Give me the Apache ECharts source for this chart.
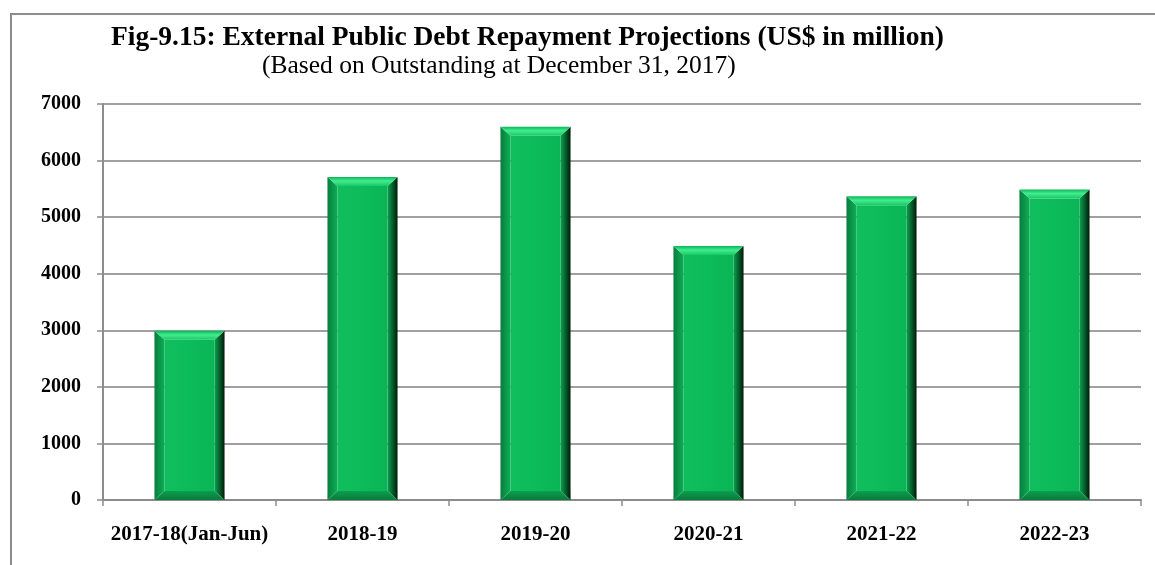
<!DOCTYPE html>
<html>
<head>
<meta charset="utf-8">
<script src="https://cdn.jsdelivr.net/npm/echarts@6/dist/echarts.min.js"></script>
<style>
  html, body { margin: 0; padding: 0; background: #fff; }
  #chart { width: 1155px; height: 565px; }
</style>
</head>
<body>
<div id="chart"></div>
<script>
// Repayment periods and projected repayments (US$ million)
const categories = ['2017-18(Jan-Jun)', '2018-19', '2019-20', '2020-21', '2021-22', '2022-23'];
const repayments = [2990, 5710, 6600, 4490, 5370, 5490];
const yTicks = { min: 0, max: 7000, interval: 1000 };

const serif = '"Liberation Serif", "Times New Roman", serif';

function lin(x0, y0, x1, y1, stops) {
  return new echarts.graphic.LinearGradient(x0, y0, x1, y1,
    stops.map(([o, c]) => ({ offset: o, color: c })));
}

// Bevelled bar: a flat face framed by four sloped edges
function renderBevelBar(params, api) {
  const val = api.value(1);
  const top = api.coord([api.value(0), val]);
  const base = api.coord([api.value(0), 0]);
  const bw = api.size([1, 0])[0] * 0.405;
  const x0 = top[0] - bw / 2, x1 = top[0] + bw / 2;
  const y0 = top[1], y1 = base[1];
  const b = 10, bv = 9;
  const poly = (pts, fill) => ({ type: 'polygon', shape: { points: pts }, style: { fill: fill } });
  return {
    type: 'group',
    children: [
      { type: 'rect', shape: { x: x0 + b, y: y0 + bv, width: x1 - x0 - 2 * b, height: y1 - y0 - 2 * bv },
        style: { fill: lin(0, 0, 1, 0, [[0, '#10BE5E'], [0.5, '#0CBB5A'], [1, '#0AB556']]) } },
      poly([[x0, y0], [x0 + b, y0 + bv], [x0 + b, y1 - bv], [x0, y1]],
        lin(0, 0, 1, 0, [[0, '#087C3E'], [1, '#0DAF55']])),
      poly([[x1, y0], [x1, y1], [x1 - b, y1 - bv], [x1 - b, y0 + bv]],
        lin(0, 0, 1, 0, [[0, '#0AA24E'], [0.5, '#05602D'], [1, '#001A08']])),
      poly([[x0, y0], [x1, y0], [x1 - b, y0 + bv], [x0 + b, y0 + bv]],
        lin(0, 0, 0, 1, [[0, '#0CB458'], [0.45, '#3FEE8E'], [1, '#1BC767']])),
      poly([[x0, y1], [x1, y1], [x1 - b, y1 - bv], [x0 + b, y1 - bv]],
        lin(0, 0, 0, 1, [[0, '#0C9E4E'], [1, '#0A7A3C']]))
    ]
  };
}

const chart = echarts.init(document.getElementById('chart'), null, { renderer: 'canvas' });
chart.setOption({
  backgroundColor: '#ffffff',
  animation: false,
  title: [
    {
      text: 'Fig-9.15: External Public Debt Repayment Projections (US$ in million)',
      left: 106, top: 19,
      textStyle: { fontFamily: serif, fontWeight: 'bold', fontSize: 27.5, color: '#000' }
    },
    {
      text: '(Based on Outstanding at December 31, 2017)',
      left: 257, top: 48,
      textStyle: { fontFamily: serif, fontWeight: 'normal', fontSize: 25.5, color: '#000' }
    }
  ],
  graphic: [
    { type: 'polyline', shape: { points: [[11, 565], [11, 14], [1155, 14]] },
      style: { stroke: '#8C8C8C', lineWidth: 2, fill: null } }
  ],
  grid: { left: 103, right: 14, top: 104, bottom: 65 },
  xAxis: {
    type: 'category',
    data: categories,
    axisLine: { lineStyle: { color: '#8C8C8C', width: 2 } },
    axisTick: { show: true, interval: 0, length: 6, lineStyle: { color: '#8C8C8C', width: 1.5 } },
    axisLabel: {
      interval: 0, hideOverlap: false,
      fontFamily: serif, fontWeight: 'bold', fontSize: 21, color: '#000', margin: 24
    }
  },
  yAxis: {
    type: 'value',
    min: yTicks.min, max: yTicks.max, interval: yTicks.interval,
    axisLine: { show: true, lineStyle: { color: '#8C8C8C', width: 2 } },
    axisTick: { show: true, length: 6, lineStyle: { color: '#8C8C8C', width: 1.5 } },
    splitLine: { lineStyle: { color: '#A0A0A0', width: 2 } },
    axisLabel: {
      fontFamily: serif, fontWeight: 'bold', fontSize: 20, color: '#000', margin: 22,
      formatter: v => String(v)
    }
  },
  series: [{
    type: 'custom',
    renderItem: renderBevelBar,
    encode: { x: 0, y: 1 },
    data: repayments.map((v, i) => [i, v])
  }]
});
</script>
</body>
</html>
